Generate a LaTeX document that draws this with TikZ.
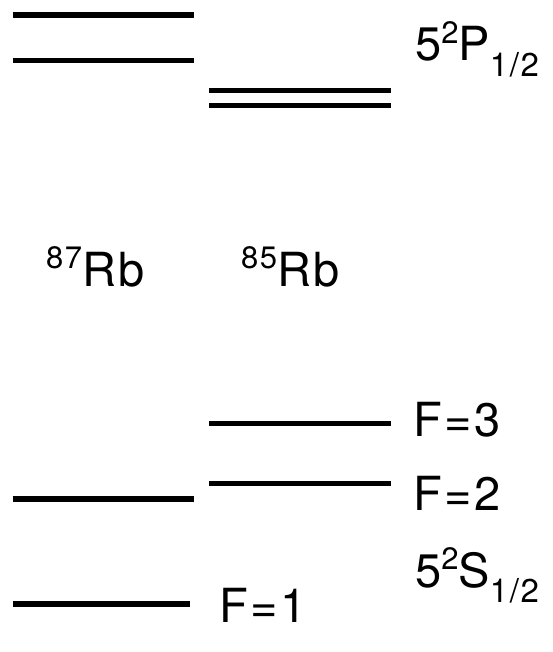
\documentclass[tikz,border=0pt]{standalone}
\usepackage{fontspec}
\setmainfont{TeX Gyre Heros}[LetterSpace=5]
% raised and lowered indices for term symbols and isotope labels
\newcommand\upidx[1]{\raisebox{0.38em}{\fontsize{31}{31}\selectfont #1}}
\newcommand\lowidx[1]{\raisebox{-0.32em}{\fontsize{33}{33}\selectfont #1}}
\begin{document}
\begin{tikzpicture}[x=1pt,y=-1pt,
  level/.style={line width=5.5pt},
  lbl/.style={anchor=base west,inner sep=0pt,font=\fontsize{47}{47}\selectfont}]
\useasboundingbox (0,0) rectangle (552,652);

% 5^2P_{1/2} hyperfine levels
\draw[level] (12.5,14.8) -- (194.3,14.8);
\draw[level] (12.5,60.3) -- (194.3,60.3);
\draw[level] (209.3,90.5) -- (391,90.5);
\draw[level] (209.3,105.3) -- (391,105.3);

% 5^2S_{1/2} hyperfine levels
\draw[level] (209.3,423.5) -- (391,423.5);
\draw[level] (209.3,483.7) -- (391,483.7);
\draw[level] (12.5,499) -- (194.3,499);
\draw[level] (12.5,604) -- (190,604);

% labels
\node[lbl] (p12) at (415,61) {5\upidx{2}P\lowidx{1/2}};
\node[lbl] (rb87) at (46,286) {\upidx{87}Rb};
\node[lbl] (rb85) at (241,286) {\upidx{85}Rb};
\node[lbl] (f3) at (413,436) {F=3};
\node[lbl] (f2) at (413,510) {F=2};
\node[lbl] (s12) at (415,587) {5\upidx{2}S\lowidx{1/2}};
\node[lbl] (f1) at (219,622) {F=1};
\end{tikzpicture}
\end{document}
